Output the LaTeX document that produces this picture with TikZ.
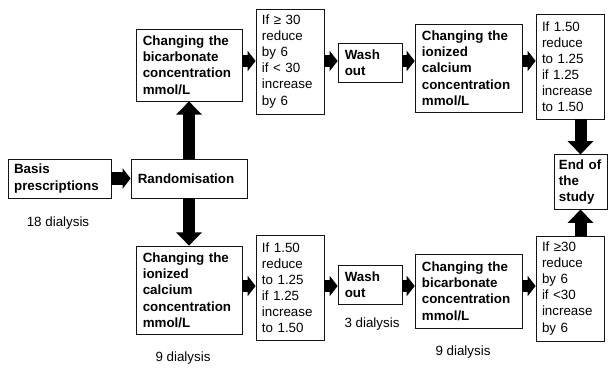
\documentclass[tikz,border=0pt]{standalone}
\usepackage{fontspec}
\setmainfont{Liberation Sans}
\usepackage{xcolor}
\definecolor{Ink}{RGB}{20,20,20}
\usetikzlibrary{arrows.meta}

\tikzset{
	box/.style={draw=Ink, line width=0.5pt, inner xsep=0.17cm, inner ysep=0cm, align=left, font=\fontsize{9.5}{11.6}\selectfont\bfseries},
	rulebox/.style={draw=Ink, line width=0.5pt, inner xsep=0.15cm, inner ysep=0cm, align=left, text width=1.4cm, minimum height=2.63cm, font=\fontsize{9.5}{11.4}\selectfont},
	harrow/.style={line width=0.3cm, draw=black, -{Triangle[width=0.5cm,length=0.2cm]}},
	varrow/.style={line width=0.3cm, draw=black, -{Triangle[width=0.62cm,length=0.33cm]}},
	count/.style={font=\fontsize{9.5}{11}\selectfont, inner sep=0cm}
}

\begin{document}
\begin{tikzpicture}[x=0.025cm,y=-0.025cm]
	\useasboundingbox (0,0) rectangle (615,367);
	\coordinate (top) at (0,61);
	\coordinate (bot) at (0,286);

	% start
	\node[box, inner xsep=0.15cm, text width=2.27cm, minimum height=0.98cm] (basis) at (59.5,178.5) {Basis\\prescriptions};
	\node[box, text width=2.56cm, minimum height=0.98cm] (rand) at (189,178.5) {Randomisation};
	\node[count] (n18) at (58,223) {18 dialysis};

	% upper arm
	\node[box, text width=2.31cm, minimum height=1.8cm] (bic1) at (189,65) {Changing the\\bicarbonate\\concentration\\mmol/L};
	\node[rulebox] (rbic1) at (290,61.5) {If ≥ 30\\reduce\\by 6\\if < 30\\increase\\by 6};
	\node[box, text width=1.26cm, minimum height=0.98cm] (wash1) at (370,62.5) {Wash\\out};
	\node[box, text width=2.33cm, minimum height=2.2cm] (ca1) at (468.5,68) {Changing the\\ionized\\calcium\\concentration\\mmol/L};
	\node[rulebox] (rca1) at (570,66.5) {If 1.50\\reduce\\to 1.25\\if 1.25\\increase\\to 1.50};

	% end
	\node[box, inner xsep=0.12cm, text width=1.08cm, minimum height=1.36cm] (end) at (580.5,182) {End of\\the\\study};

	% lower arm
	\node[box, text width=2.31cm, minimum height=2.2cm] (ca2) at (189,290) {Changing the\\ionized\\calcium\\concentration\\mmol/L};
	\node[rulebox] (rca2) at (290,288) {If 1.50\\reduce\\to 1.25\\if 1.25\\increase\\to 1.50};
	\node[box, text width=1.26cm, minimum height=0.98cm] (wash2) at (370,284.5) {Wash\\out};
	\node[box, text width=2.33cm, minimum height=1.85cm] (bic2) at (468.5,291) {Changing the\\bicarbonate\\concentration\\mmol/L};
	\node[rulebox] (rbic2) at (570,288.5) {If ≥30\\reduce\\by 6\\if <30\\increase\\by 6};

	\node[count] (n9a) at (183,358) {9 dialysis};
	\node[count] (n3) at (372,324) {3 dialysis};
	\node[count] (n9b) at (463,352) {9 dialysis};

	% arrows
	\draw[harrow] (basis) -- (rand);
	\draw[varrow] (rand) -- (bic1);
	\draw[varrow] (rand) -- (ca2);

	\draw[harrow] (bic1.east |- top) -- (rbic1.west |- top);
	\draw[harrow] (rbic1.east |- top) -- (wash1.west |- top);
	\draw[harrow] (wash1.east |- top) -- (ca1.west |- top);
	\draw[harrow] (ca1.east |- top) -- (rca1.west |- top);

	\draw[harrow] (ca2.east |- bot) -- (rca2.west |- bot);
	\draw[harrow] (rca2.east |- bot) -- (wash2.west |- bot);
	\draw[harrow] (wash2.east |- bot) -- (bic2.west |- bot);
	\draw[harrow] (bic2.east |- bot) -- (rbic2.west |- bot);

	\draw[varrow] (rca1.south -| end) -- (end.north);
	\draw[varrow] (rbic2.north -| end) -- (end.south);
\end{tikzpicture}
\end{document}
